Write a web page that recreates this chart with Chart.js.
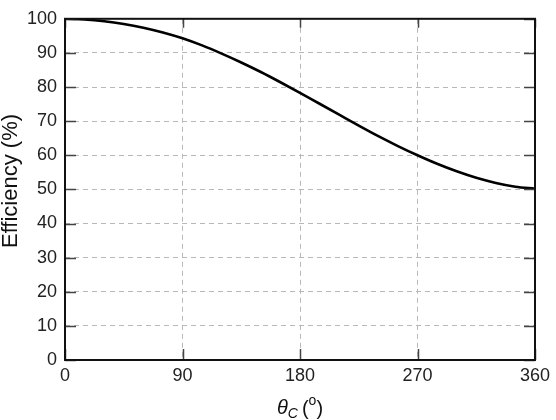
<!DOCTYPE html>
<html>
<head>
<meta charset="utf-8">
<script src="https://cdn.jsdelivr.net/npm/chart.js@4.4.0/dist/chart.umd.min.js"></script>
<style>
  body { margin: 0; background: #fff; }
  #wrap { width: 556px; height: 420px; }
</style>
</head>
<body>
<div id="wrap"><canvas id="myChart" width="556" height="420"></canvas></div>
<script>
// readings
const angles = [0, 15, 30, 45, 60, 75, 90, 105, 120, 135, 150, 165, 180,
                195, 210, 225, 240, 255, 270, 285, 300, 315, 330, 345, 360];
const efficiency = [100, 99.8, 99.3, 98.5, 97.4, 96.0, 94.3, 92.2, 89.8, 87.2, 84.4, 81.4, 78.3,
                    75.1, 71.9, 68.7, 65.6, 62.7, 60.0, 57.5, 55.3, 53.4, 51.9, 50.8, 50.2];
const xTicks = [0, 90, 180, 270, 360];
const yTicks = [0, 10, 20, 30, 40, 50, 60, 70, 80, 90, 100];

const FONT = "'Liberation Sans', Arial, sans-serif";

// frame, inward tick marks and axis titles
const framePlugin = {
  id: 'frame',
  afterDraw(chart) {
    const ctx = chart.ctx;
    const a = chart.chartArea;
    const xs = chart.scales.x, ys = chart.scales.y;
    ctx.save();
    ctx.strokeStyle = '#444';
    ctx.lineWidth = 1.5;
    ctx.beginPath();
    yTicks.forEach(v => {
      const y = Math.round(ys.getPixelForValue(v)) + 0.5;
      ctx.moveTo(a.left, y); ctx.lineTo(a.left + 11, y);
      ctx.moveTo(a.right, y); ctx.lineTo(a.right - 11, y);
    });
    xTicks.forEach(v => {
      const x = Math.round(xs.getPixelForValue(v)) + 0.5;
      ctx.moveTo(x, a.bottom); ctx.lineTo(x, a.bottom - 11);
      ctx.moveTo(x, a.top); ctx.lineTo(x, a.top + 9);
    });
    ctx.stroke();

    ctx.strokeStyle = '#111';
    ctx.lineWidth = 2;
    ctx.strokeRect(a.left, a.top, a.right - a.left, a.bottom - a.top);

    // y title
    ctx.fillStyle = '#111';
    ctx.font = '22px ' + FONT;
    ctx.textAlign = 'center';
    ctx.textBaseline = 'middle';
    ctx.translate(11, 181);
    ctx.rotate(-Math.PI / 2);
    ctx.fillText('Efficiency (%)', 0, 0);
    ctx.setTransform(1, 0, 0, 1, 0, 0);

    // x title: theta_C (deg)
    ctx.textAlign = 'left';
    ctx.textBaseline = 'alphabetic';
    let x = 277;
    ctx.font = 'italic 20px ' + FONT;
    ctx.fillText('\u03b8', x, 414);
    x += ctx.measureText('\u03b8').width;
    ctx.font = 'italic 14px ' + FONT;
    ctx.fillText('C', x, 418);
    x += ctx.measureText('C').width + 4;
    ctx.font = '20px ' + FONT;
    ctx.fillText('(', x, 415);
    x += ctx.measureText('(').width;
    ctx.font = '14px ' + FONT;
    ctx.fillText('o', x, 405);
    x += ctx.measureText('o').width;
    ctx.font = '20px ' + FONT;
    ctx.fillText(')', x, 415);
    ctx.restore();
  }
};

const createChart = () => {
  const ctx = document.getElementById('myChart');

  const chartData = {
    datasets: [{
      label: 'Efficiency',
      data: angles.map((a, i) => ({ x: a, y: efficiency[i] })),
      borderColor: '#000',
      borderWidth: 2.6,
      pointRadius: 0,
      fill: false,
      cubicInterpolationMode: 'monotone',
    }],
  };

  const chartConfig = {
    type: 'line',
    data: chartData,
    options: {
      responsive: false,
      animation: false,
      layout: { padding: { top: 7, right: 21, left: 0, bottom: 0 } },
      plugins: { legend: { display: false }, tooltip: { enabled: false } },
      scales: {
        x: {
          type: 'linear',
          min: 0, max: 360,
          afterBuildTicks: s => { s.ticks = xTicks.map(v => ({ value: v })); },
          afterFit: s => { s.height = 60; },
          ticks: { color: '#222', font: { family: FONT, size: 18 }, padding: 5, maxRotation: 0 },
          grid: { color: '#b8b8b8', lineWidth: 1, drawTicks: false },
          border: { display: false, dash: [5, 4] },
        },
        y: {
          min: 0, max: 100,
          afterBuildTicks: s => { s.ticks = yTicks.map(v => ({ value: v })); },
          afterFit: s => { s.width = 65; },
          ticks: { color: '#222', font: { family: FONT, size: 18 }, padding: 8 },
          grid: { color: '#b8b8b8', lineWidth: 1, drawTicks: false },
          border: { display: false, dash: [5, 4] },
        },
      },
    },
    plugins: [framePlugin],
  };

  new Chart(ctx, chartConfig);
};

createChart();
</script>
</body>
</html>
